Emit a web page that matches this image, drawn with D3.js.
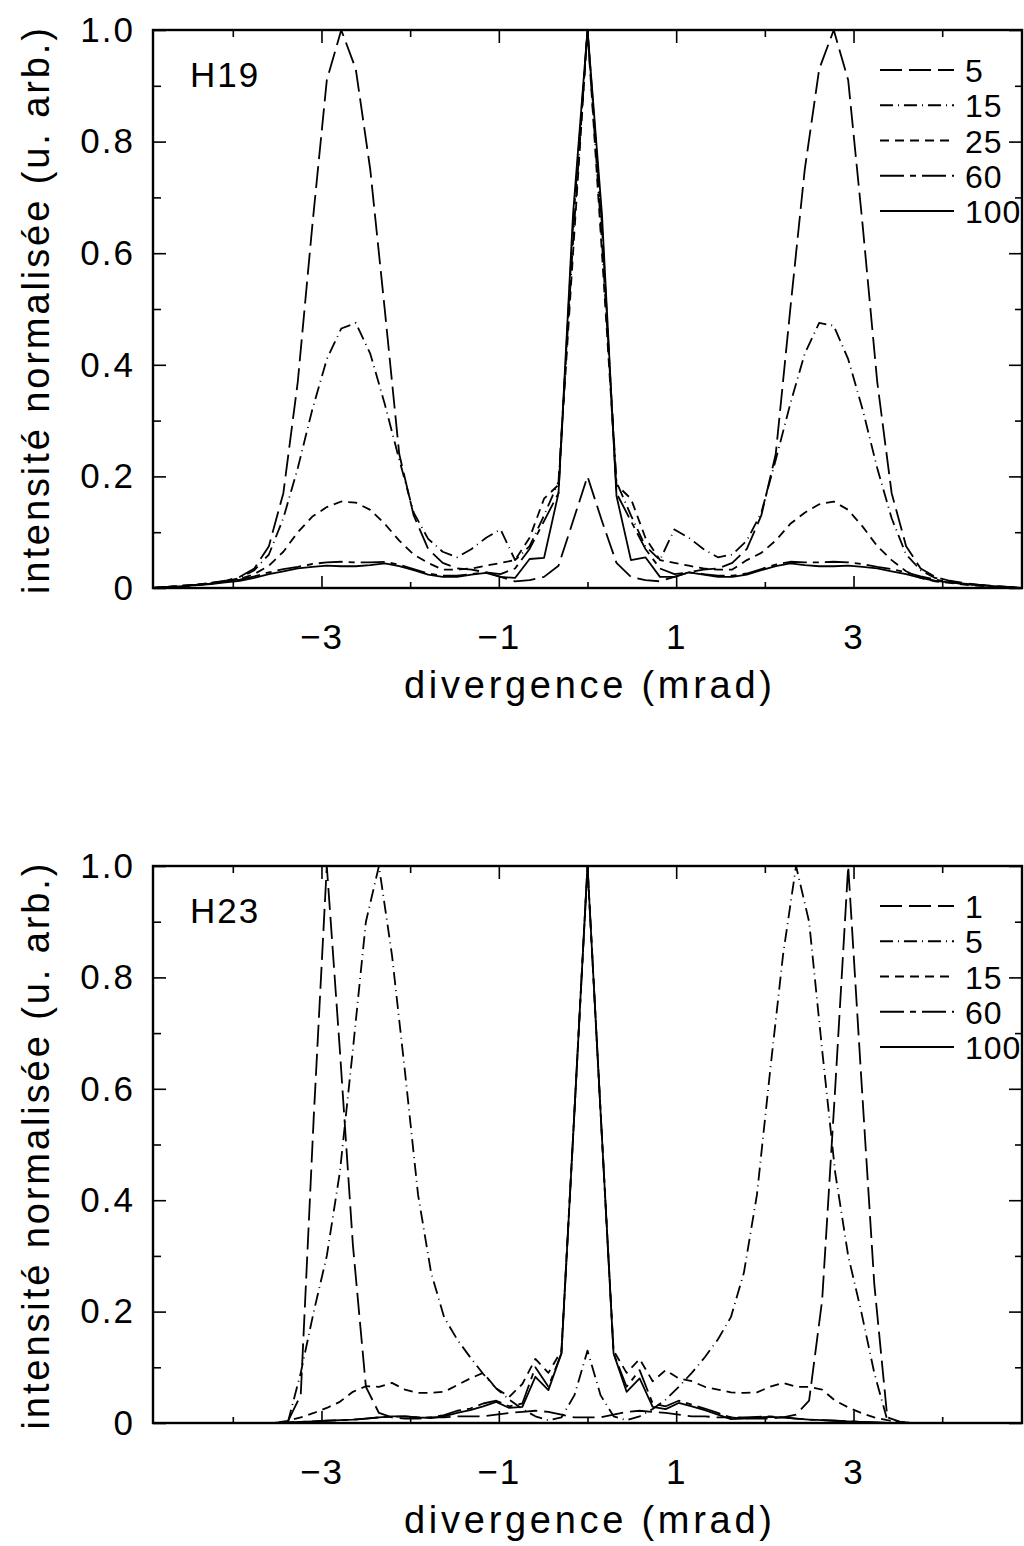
<!DOCTYPE html>
<html>
<head>
<meta charset="utf-8">
<script src="https://cdn.jsdelivr.net/npm/d3@7"></script>
<style>
  body { margin: 0; background: #fff; }
  svg text { font-family: "Liberation Sans", Arial, sans-serif; fill: #000; }
  .tick-label { font-size: 35px; letter-spacing: 2px; }
  .axis-title { font-size: 38px; }
  .legend-label { font-size: 32px; letter-spacing: 1px; }
  .panel-name { font-size: 35px; letter-spacing: 2px; }
</style>
</head>
<body>
<div id="chart"></div>
<script>
// divergence grid for H19 (mrad)
var xH19 = [-4.900, -4.737, -4.573, -4.410, -4.247, -4.083, -3.920, -3.757, -3.593, -3.430,
  -3.267, -3.103, -2.940, -2.777, -2.613, -2.450, -2.287, -2.123, -1.960, -1.797,
  -1.633, -1.470, -1.307, -1.143, -0.980, -0.817, -0.653, -0.490, -0.327, -0.163,
  0,
  0.163, 0.327, 0.490, 0.653, 0.817, 0.980, 1.143, 1.307, 1.470, 1.633,
  1.797, 1.960, 2.123, 2.287, 2.450, 2.613, 2.777, 2.940, 3.103, 3.267,
  3.430, 3.593, 3.757, 3.920, 4.083, 4.247, 4.410, 4.573, 4.737, 4.900];

// divergence grid for H23 (mrad)
var xH23 = [-4.998, -4.851, -4.704, -4.557, -4.410, -4.263, -4.116, -3.969, -3.822, -3.675,
  -3.528, -3.381, -3.234, -3.087, -2.940, -2.793, -2.646, -2.499, -2.352, -2.205,
  -2.058, -1.911, -1.764, -1.617, -1.470, -1.323, -1.176, -1.029, -0.882, -0.735,
  -0.588, -0.441, -0.294, -0.147,
  0,
  0.147, 0.294, 0.441, 0.588, 0.735, 0.882, 1.029, 1.176, 1.323, 1.470,
  1.617, 1.764, 1.911, 2.058, 2.205, 2.352, 2.499, 2.646, 2.793, 2.940,
  3.087, 3.234, 3.381, 3.528, 3.675, 3.822, 3.969, 4.116, 4.263, 4.410,
  4.557, 4.704, 4.851, 4.998];

var labelsH19 = ["5", "15", "25", "60", "100"];
var labelsH23 = ["1", "5", "15", "60", "100"];

var yTicks = [0, 0.2, 0.4, 0.6, 0.8, 1.0];
var yMinor = [0.1, 0.3, 0.5, 0.7, 0.9];
var xTicks = [-3, -1, 1, 3];
var xMinor = [-4, -2, 0, 2, 4];

// H19 curves
var h19_5 = [0.000, 0.002, 0.004, 0.006, 0.009, 0.013, 0.020, 0.035, 0.075, 0.170,
  0.370, 0.650, 0.910, 1.000, 0.930, 0.750, 0.500, 0.240, 0.130, 0.070,
  0.045, 0.035, 0.033, 0.028, 0.020, 0.012, 0.014, 0.020, 0.040, 0.120,
  0.200,
  0.120, 0.045, 0.020, 0.014, 0.012, 0.020, 0.028, 0.033, 0.035, 0.045,
  0.070, 0.130, 0.240, 0.500, 0.750, 0.930, 1.000, 0.910, 0.650, 0.370,
  0.170, 0.075, 0.035, 0.020, 0.013, 0.009, 0.006, 0.004, 0.002, 0.000];
var h19_15 = [0.000, 0.001, 0.003, 0.005, 0.008, 0.012, 0.018, 0.032, 0.060, 0.125,
  0.215, 0.320, 0.410, 0.465, 0.475, 0.420, 0.330, 0.230, 0.135, 0.088,
  0.065, 0.055, 0.070, 0.090, 0.105, 0.050, 0.075, 0.130, 0.190, 0.620,
  1.000,
  0.620, 0.190, 0.130, 0.075, 0.050, 0.105, 0.090, 0.070, 0.055, 0.060,
  0.085, 0.135, 0.230, 0.330, 0.420, 0.475, 0.470, 0.410, 0.320, 0.215,
  0.125, 0.060, 0.032, 0.018, 0.012, 0.008, 0.005, 0.003, 0.001, 0.000];
var h19_25 = [0.000, 0.002, 0.004, 0.006, 0.009, 0.012, 0.016, 0.025, 0.040, 0.065,
  0.100, 0.128, 0.145, 0.155, 0.153, 0.140, 0.115, 0.085, 0.060, 0.045,
  0.033, 0.033, 0.035, 0.040, 0.045, 0.050, 0.090, 0.160, 0.185, 0.600,
  1.000,
  0.600, 0.185, 0.160, 0.090, 0.050, 0.045, 0.040, 0.035, 0.033, 0.033,
  0.050, 0.063, 0.085, 0.115, 0.135, 0.150, 0.155, 0.140, 0.110, 0.075,
  0.050, 0.030, 0.018, 0.012, 0.009, 0.006, 0.004, 0.003, 0.001, 0.000];
var h19_60 = [0.000, 0.002, 0.003, 0.005, 0.008, 0.011, 0.015, 0.021, 0.028, 0.034,
  0.038, 0.043, 0.046, 0.047, 0.046, 0.046, 0.047, 0.042, 0.034, 0.026,
  0.022, 0.022, 0.025, 0.028, 0.025, 0.035, 0.070, 0.120, 0.170, 0.650,
  1.000,
  0.650, 0.170, 0.120, 0.070, 0.035, 0.025, 0.028, 0.025, 0.022, 0.022,
  0.026, 0.034, 0.042, 0.047, 0.046, 0.046, 0.047, 0.046, 0.043, 0.038,
  0.034, 0.028, 0.021, 0.015, 0.011, 0.008, 0.005, 0.003, 0.002, 0.000];
var h19_100 = [0.000, 0.002, 0.003, 0.005, 0.007, 0.010, 0.013, 0.018, 0.025, 0.030,
  0.035, 0.038, 0.040, 0.039, 0.039, 0.041, 0.044, 0.039, 0.032, 0.024,
  0.020, 0.020, 0.024, 0.027, 0.020, 0.018, 0.052, 0.054, 0.170, 0.670,
  1.000,
  0.670, 0.165, 0.050, 0.055, 0.020, 0.020, 0.028, 0.024, 0.020, 0.020,
  0.024, 0.032, 0.039, 0.044, 0.041, 0.039, 0.039, 0.040, 0.038, 0.035,
  0.030, 0.025, 0.018, 0.013, 0.010, 0.007, 0.005, 0.003, 0.002, 0.000];

// H23 curves
var h23_1 = [0, 0, 0, 0, 0, 0, 0, 0, 0, 0,
  0, 0.002, 0.050, 0.550, 1.000, 0.670, 0.320, 0.065, 0.018, 0.010,
  0.008, 0.008, 0.010, 0.010, 0.012, 0.012, 0.012, 0.015, 0.018, 0.020,
  0.022, 0.020, 0.015, 0.010,
  0.010,
  0.010, 0.015, 0.020, 0.022, 0.020, 0.018, 0.015, 0.012, 0.012, 0.010,
  0.010, 0.008, 0.008, 0.008, 0.010, 0.015, 0.040, 0.220, 0.600, 1.000,
  0.620, 0.250, 0.010, 0.002, 0, 0, 0, 0, 0, 0,
  0, 0, 0, 0];
var h23_5 = [0, 0, 0, 0, 0, 0, 0, 0, 0, 0,
  0, 0.000, 0.090, 0.200, 0.300, 0.450, 0.670, 0.900, 1.000, 0.840,
  0.630, 0.410, 0.270, 0.190, 0.150, 0.118, 0.088, 0.062, 0.042, 0.025,
  0.012, 0.005, 0.010, 0.050,
  0.130,
  0.050, 0.012, 0.005, 0.012, 0.025, 0.042, 0.065, 0.090, 0.118, 0.150,
  0.190, 0.270, 0.410, 0.630, 0.840, 1.000, 0.900, 0.670, 0.450, 0.300,
  0.200, 0.090, 0.005, 0, 0, 0, 0, 0, 0, 0,
  0, 0, 0, 0];
var h23_15 = [0, 0, 0, 0, 0, 0, 0, 0, 0, 0,
  0.000, 0.004, 0.010, 0.018, 0.027, 0.038, 0.056, 0.066, 0.065, 0.072,
  0.060, 0.054, 0.054, 0.056, 0.068, 0.080, 0.090, 0.062, 0.047, 0.070,
  0.115, 0.090, 0.130, 0.560,
  1.000,
  0.560, 0.130, 0.090, 0.115, 0.075, 0.095, 0.080, 0.075, 0.065, 0.060,
  0.055, 0.054, 0.055, 0.065, 0.072, 0.065, 0.065, 0.060, 0.040, 0.028,
  0.018, 0.010, 0.005, 0.002, 0, 0, 0, 0, 0, 0,
  0, 0, 0, 0];
var h23_60 = [0, 0, 0, 0, 0, 0, 0, 0, 0, 0,
  0, 0.001, 0.002, 0.003, 0.004, 0.005, 0.006, 0.008, 0.010, 0.011,
  0.012, 0.010, 0.010, 0.014, 0.022, 0.026, 0.035, 0.040, 0.030, 0.035,
  0.100, 0.065, 0.125, 0.560,
  1.000,
  0.560, 0.125, 0.065, 0.095, 0.035, 0.030, 0.040, 0.033, 0.026, 0.018,
  0.010, 0.010, 0.011, 0.012, 0.010, 0.008, 0.006, 0.005, 0.004, 0.003,
  0.002, 0.001, 0, 0, 0, 0, 0, 0, 0, 0,
  0, 0, 0, 0];
var h23_100 = [0, 0, 0, 0, 0, 0, 0, 0, 0, 0,
  0, 0.001, 0.002, 0.003, 0.004, 0.005, 0.006, 0.008, 0.010, 0.012,
  0.012, 0.010, 0.009, 0.012, 0.018, 0.023, 0.030, 0.038, 0.027, 0.029,
  0.083, 0.059, 0.125, 0.560,
  1.000,
  0.560, 0.125, 0.056, 0.080, 0.029, 0.025, 0.036, 0.030, 0.023, 0.015,
  0.007, 0.008, 0.010, 0.011, 0.010, 0.008, 0.006, 0.005, 0.004, 0.003,
  0.002, 0.001, 0, 0, 0, 0, 0, 0, 0, 0,
  0, 0, 0, 0];

// line styles: long dash, dash-dot, short dash, dash-short dash, solid
var dashes = ["22,7", "13,5,1,5", "9,6", "24,6,6,6", null];

var width = 1024, height = 1546;
var left = 153, right = 1022;

var svg = d3.select("#chart")
  .append("svg")
    .attr("width", width)
    .attr("height", height);

function drawPanel(id, top, bottom, name, xs, series, labels) {
  var x = d3.scaleLinear().domain([-4.9, 4.9]).range([left, right]);
  var y = d3.scaleLinear().domain([0, 1]).range([bottom, top]);

  var g = svg.append("g").attr("class", "panel-" + id);

  g.append("clipPath")
      .attr("id", "clip-" + id)
    .append("rect")
      .attr("x", left).attr("y", top)
      .attr("width", right - left).attr("height", bottom - top);

  // ticks point inward on all four sides
  function clean(sel) {
    sel.select(".domain").remove();
    sel.selectAll("line").attr("stroke", "#000").attr("stroke-width", 1.6);
    sel.selectAll("text").attr("class", "tick-label")
      .attr("font-size", null).attr("font-family", null);
  }
  g.append("g").attr("transform", "translate(0," + bottom + ")")
    .call(d3.axisBottom(x).tickValues(xTicks).tickSize(-12).tickPadding(36)
      .tickFormat(function(d) { return d < 0 ? "\u2212" + Math.abs(d) : d; }))
    .call(clean);
  g.append("g").attr("transform", "translate(0," + bottom + ")")
    .call(d3.axisBottom(x).tickValues(xMinor).tickSize(-6).tickFormat(""))
    .call(clean);
  g.append("g").attr("transform", "translate(0," + top + ")")
    .call(d3.axisTop(x).tickValues(xTicks).tickSize(-13).tickFormat(""))
    .call(clean);
  g.append("g").attr("transform", "translate(0," + top + ")")
    .call(d3.axisTop(x).tickValues(xMinor).tickSize(-7).tickFormat(""))
    .call(clean);

  g.append("g").attr("transform", "translate(" + left + ",0)")
    .call(d3.axisLeft(y).tickValues(yTicks).tickSize(-13).tickPadding(18)
      .tickFormat(function(d) { return d === 0 ? "0" : d3.format(".1f")(d); }))
    .call(clean);
  g.append("g").attr("transform", "translate(" + left + ",0)")
    .call(d3.axisLeft(y).tickValues(yMinor).tickSize(-8).tickFormat(""))
    .call(clean);
  g.append("g").attr("transform", "translate(" + right + ",0)")
    .call(d3.axisRight(y).tickValues(yTicks).tickSize(-13).tickFormat(""))
    .call(clean);
  g.append("g").attr("transform", "translate(" + right + ",0)")
    .call(d3.axisRight(y).tickValues(yMinor).tickSize(-7).tickFormat(""))
    .call(clean);

  // frame
  g.append("rect")
    .attr("x", left).attr("y", top)
    .attr("width", right - left).attr("height", bottom - top)
    .attr("fill", "none").attr("stroke", "#000").attr("stroke-width", 2.4);

  // curves
  var line = d3.line()
    .x(function(d, i) { return x(xs[i]); })
    .y(function(d) { return y(d); });

  g.append("g").attr("clip-path", "url(#clip-" + id + ")")
    .selectAll(".curve")
    .data(series)
    .enter()
    .append("path")
      .attr("class", "curve")
      .attr("d", line)
      .attr("fill", "none")
      .attr("stroke", "#000")
      .attr("stroke-width", 1.8)
      .attr("stroke-linejoin", "round")
      .attr("stroke-dasharray", function(d, i) { return dashes[i]; });

  // legend
  var leg = g.append("g").selectAll(".leg")
    .data(labels)
    .enter()
    .append("g")
      .attr("transform", function(d, i) { return "translate(0," + (top + 40 + i * 35.25) + ")"; });
  leg.append("line")
    .attr("x1", 880).attr("x2", 954)
    .attr("stroke", "#000").attr("stroke-width", 1.8)
    .attr("stroke-dasharray", function(d, i) { return dashes[i]; });
  leg.append("text")
    .attr("class", "legend-label")
    .attr("x", 965).attr("y", 12)
    .text(function(d) { return d; });

  g.append("text")
    .attr("class", "panel-name")
    .attr("x", 190).attr("y", top + 57)
    .text(name);

  g.append("text")
    .attr("class", "axis-title")
    .attr("text-anchor", "middle")
    .attr("x", 588).attr("y", bottom + 110)
    .attr("textLength", 368)
    .attr("lengthAdjust", "spacing")
    .text("divergence (mrad)");

  g.append("text")
    .attr("class", "axis-title")
    .attr("text-anchor", "middle")
    .attr("transform", "translate(49," + ((top + bottom) / 2 + 2) + ") rotate(-90)")
    .attr("textLength", 566)
    .attr("lengthAdjust", "spacing")
    .text("intensité normalisée (u. arb.)");
}

drawPanel("h19", 30, 588, "H19", xH19, [h19_5, h19_15, h19_25, h19_60, h19_100], labelsH19);
drawPanel("h23", 866, 1423, "H23", xH23, [h23_1, h23_5, h23_15, h23_60, h23_100], labelsH23);
</script>
</body>
</html>
